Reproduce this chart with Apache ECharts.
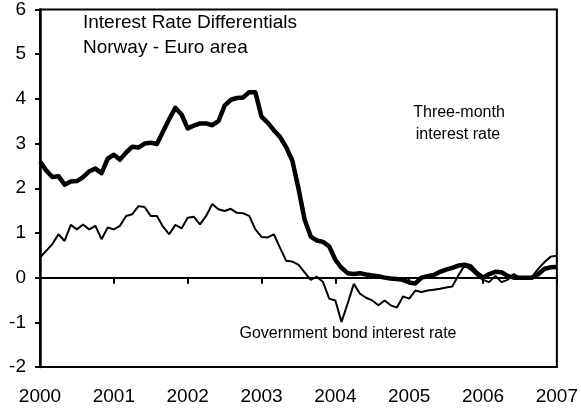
<!DOCTYPE html>
<html>
<head>
<meta charset="utf-8">
<script src="https://cdn.jsdelivr.net/npm/echarts@6/dist/echarts.min.js"></script>
<style>
  html, body { margin: 0; padding: 0; background: #fff; }
  #chart { width: 581px; height: 410px; }
</style>
</head>
<body>
<div id="chart"></div>
<script>
// monthly observations, Jan 2000 .. Jan 2007
var startYear = 2000;
var years = [2000, 2001, 2002, 2003, 2004, 2005, 2006, 2007];
var yTicks = [-2, -1, 0, 1, 2, 3, 4, 5, 6];

var threeMonth = [
  2.6, 2.4, 2.25, 2.27, 2.08, 2.15, 2.16, 2.25, 2.38, 2.44, 2.34, 2.66,
  2.75, 2.64, 2.8, 2.93, 2.91, 3.0, 3.02, 2.99, 3.27, 3.55, 3.8, 3.65,
  3.34, 3.4, 3.45, 3.45, 3.41, 3.5, 3.85, 3.98, 4.02, 4.03, 4.15, 4.15,
  3.6, 3.47, 3.3, 3.15, 2.92, 2.62, 2.0, 1.3, 0.92, 0.83, 0.8, 0.7,
  0.4, 0.22, 0.1, 0.08, 0.1, 0.07, 0.05, 0.03, 0.0, -0.02, -0.03, -0.05,
  -0.11, -0.13, 0.0, 0.03, 0.06, 0.13, 0.18, 0.22, 0.27, 0.29, 0.25, 0.1,
  0.0, 0.08, 0.13, 0.12, 0.04, 0.0, 0.0, 0.0, 0.0, 0.08, 0.2, 0.23,
  0.24
];

var govBond = [
  0.45, 0.6, 0.75, 0.97, 0.82, 1.18, 1.08, 1.19, 1.08, 1.16, 0.86, 1.12,
  1.08, 1.16, 1.38, 1.42, 1.6, 1.58, 1.38, 1.38, 1.14, 0.97, 1.18, 1.1,
  1.34, 1.36, 1.19, 1.38, 1.65, 1.53, 1.49, 1.54, 1.45, 1.44, 1.38, 1.08,
  0.91, 0.9, 0.97, 0.67, 0.38, 0.36, 0.29, 0.12, -0.05, 0.02, -0.1, -0.47,
  -0.51, -0.99, -0.58, -0.14, -0.36, -0.45, -0.51, -0.62, -0.51, -0.62, -0.67, -0.42,
  -0.47, -0.29, -0.32, -0.29, -0.27, -0.25, -0.22, -0.2, 0.05, 0.27, 0.18, 0.05,
  -0.05, -0.1, 0.04, -0.1, -0.05, 0.08, 0.0, 0.01, 0.02, 0.2, 0.35, 0.47,
  0.49
];

function toPoints(arr) {
  return arr.map(function (v, i) { return [startYear + i / 12, v]; });
}

var font = 'Arial, "Liberation Sans", sans-serif';
var chart = echarts.init(document.getElementById('chart'));

var option = {
  backgroundColor: '#fff',
  animation: false,
  grid: {
    left: 40, right: 24, top: 7, bottom: 43,
    show: true, borderColor: '#000', borderWidth: 2, backgroundColor: 'transparent'
  },
  xAxis: [
    {
      type: 'value',
      position: 'bottom',
      min: years[0], max: years[years.length - 1], interval: 1,
      axisLine: { onZero: false, lineStyle: { color: '#000', width: 2 } },
      axisTick: { show: false },
      splitLine: { show: false },
      axisLabel: { color: '#000', fontSize: 19, fontFamily: font, margin: 20,
        formatter: function (v) { return String(v); } }
    },
    {
      // zero line with year ticks hanging below it
      type: 'value',
      position: 'top',
      min: years[0], max: years[years.length - 1], interval: 1,
      axisLine: { onZero: true, lineStyle: { color: '#000', width: 2 } },
      axisTick: { show: true, inside: true, length: 6, lineStyle: { color: '#000', width: 2 } },
      axisLabel: { show: false },
      splitLine: { show: false }
    }
  ],
  yAxis: {
    type: 'value',
    min: yTicks[0], max: yTicks[yTicks.length - 1], interval: 1,
    axisLine: { show: true, onZero: false, lineStyle: { color: '#000', width: 2.5 } },
    axisTick: { show: true, length: 5, lineStyle: { color: '#000', width: 2 } },
    splitLine: { show: false },
    axisLabel: { color: '#000', fontSize: 19, fontFamily: font, margin: 14 }
  },
  graphic: [
    { type: 'text', left: 83, top: 13, style: { text: 'Interest Rate Differentials', font: '19px ' + font, fill: '#000' } },
    { type: 'text', left: 83, top: 38, style: { text: 'Norway - Euro area', font: '19px ' + font, fill: '#000' } },
    { type: 'text', x: 459, y: 113, style: { text: 'Three-month', font: '16px ' + font, fill: '#000', align: 'center', verticalAlign: 'middle' } },
    { type: 'text', x: 458, y: 135, style: { text: 'interest rate', font: '16px ' + font, fill: '#000', align: 'center', verticalAlign: 'middle' } },
    { type: 'text', x: 348, y: 334, style: { text: 'Government bond interest rate', font: '16px ' + font, fill: '#000', align: 'center', verticalAlign: 'middle' } }
  ],
  series: [
    {
      name: 'Government bond interest rate',
      type: 'line',
      xAxisIndex: 0,
      data: toPoints(govBond),
      showSymbol: false,
      lineStyle: { color: '#000', width: 2 },
      z: 3
    },
    {
      name: 'Three-month interest rate',
      type: 'line',
      xAxisIndex: 0,
      data: toPoints(threeMonth),
      showSymbol: false,
      lineStyle: { color: '#000', width: 4.5, join: 'round' },
      z: 4
    }
  ]
};

chart.setOption(option);
</script>
</body>
</html>
